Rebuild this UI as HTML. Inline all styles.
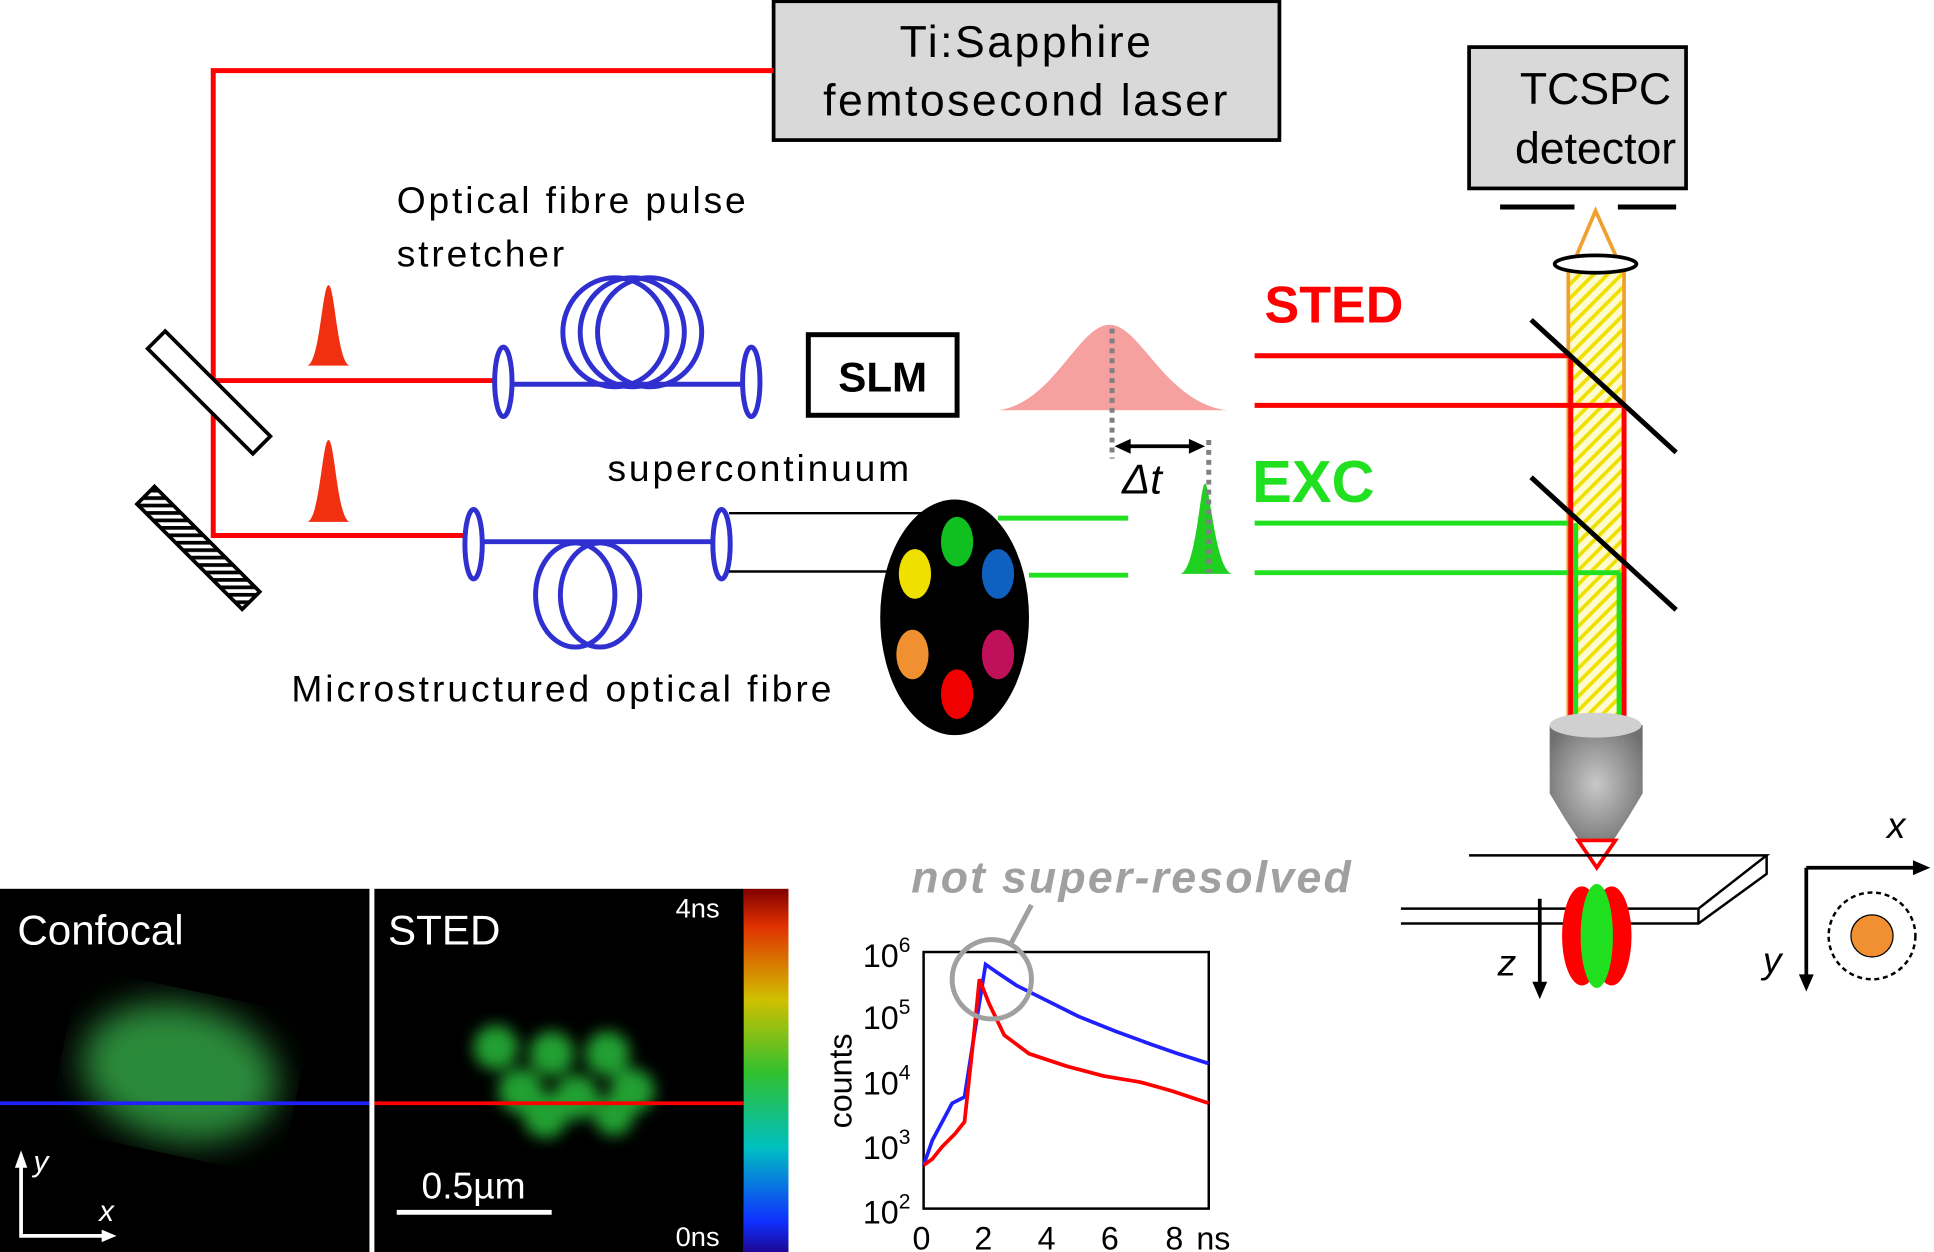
<!DOCTYPE html>
<html><head><meta charset="utf-8"><style>
html,body{margin:0;padding:0;background:#fff;}
svg{display:block;}
text{font-family:"Liberation Sans",sans-serif;}
</style></head><body>
<svg width="1934" height="1252" viewBox="0 0 1560 1010" preserveAspectRatio="none" xmlns="http://www.w3.org/2000/svg">
<defs>
<pattern id="hatch" width="8" height="8" patternUnits="userSpaceOnUse" patternTransform="rotate(45)">
<rect width="8" height="8" fill="#fffbd0"/><rect width="3" height="8" fill="#f0e000"/></pattern>
<pattern id="bhatch" width="6" height="6" patternUnits="userSpaceOnUse" patternTransform="rotate(45)">
<rect width="6" height="6" fill="#fff"/><rect width="3" height="6" fill="#000"/></pattern>
<linearGradient id="cbar" x1="0" y1="0" x2="0" y2="1">
<stop offset="0" stop-color="#800000"/><stop offset="0.1" stop-color="#e03000"/><stop offset="0.3" stop-color="#d0c000"/><stop offset="0.5" stop-color="#30c030"/><stop offset="0.7" stop-color="#00c0c0"/><stop offset="0.9" stop-color="#1030ff"/><stop offset="1" stop-color="#200080"/></linearGradient>
<filter id="blur1"><feGaussianBlur stdDeviation="14"/></filter>
<filter id="blur2"><feGaussianBlur stdDeviation="6"/></filter>
<radialGradient id="obj" cx="0.5" cy="0.5" r="0.6"><stop offset="0" stop-color="#c8c8c8"/><stop offset="1" stop-color="#707070"/></radialGradient>
</defs>
<!-- laser -->
<rect x="624" y="1" width="408" height="112" fill="#d9d9d9" stroke="#000" stroke-width="3"/>
<text x="828" y="46" font-size="36" text-anchor="middle" letter-spacing="2">Ti:Sapphire</text>
<text x="828" y="93" font-size="36" text-anchor="middle" letter-spacing="2">femtosecond laser</text>
<polyline points="624,57 172,57 172,432 380,432" fill="none" stroke="#f00" stroke-width="4"/>
<line x1="172" y1="307" x2="400" y2="307" stroke="#f00" stroke-width="4"/>
<!-- mirrors -->
<rect x="108" y="308" width="120" height="20" transform="rotate(45 170 318)" fill="#fff" stroke="#000" stroke-width="3"/>
<rect x="100" y="432" width="120" height="20" transform="rotate(45 160 442)" fill="url(#bhatch)" stroke="#000" stroke-width="3"/>
<!-- pulses -->
<path d="M248,295 C258,292 260,230 265,230 C270,230 272,292 282,295 Z" fill="#f03010"/>
<path d="M248,421 C258,418 260,355 265,355 C270,355 272,418 282,421 Z" fill="#f03010"/>
<!-- fibre 1 -->
<text x="320" y="172" font-size="30" letter-spacing="2.3">Optical fibre pulse</text>
<text x="320" y="215" font-size="30" letter-spacing="2.3">stretcher</text>
<line x1="406" y1="310" x2="606" y2="310" stroke="#3030d0" stroke-width="4"/>
<ellipse cx="406" cy="308" rx="7" ry="28" fill="#fff" stroke="#3030d0" stroke-width="4"/>
<ellipse cx="606" cy="308" rx="7" ry="28" fill="#fff" stroke="#3030d0" stroke-width="4"/>
<g fill="none" stroke="#3030d0" stroke-width="4">
<ellipse cx="496" cy="268" rx="42" ry="44"/><ellipse cx="510" cy="268" rx="42" ry="44"/><ellipse cx="524" cy="268" rx="42" ry="44"/>
<ellipse cx="464" cy="480" rx="32" ry="42"/><ellipse cx="484" cy="480" rx="32" ry="42"/>
</g>
<!-- fibre 2 -->
<line x1="382" y1="437" x2="582" y2="437" stroke="#3030d0" stroke-width="4"/>
<ellipse cx="382" cy="439" rx="7" ry="28" fill="#fff" stroke="#3030d0" stroke-width="4"/>
<ellipse cx="582" cy="439" rx="7" ry="28" fill="#fff" stroke="#3030d0" stroke-width="4"/>
<text x="490" y="388" font-size="30" letter-spacing="2.3">supercontinuum</text>
<text x="235" y="566" font-size="30" letter-spacing="2.4">Microstructured optical fibre</text>
<line x1="588" y1="414" x2="745" y2="414" stroke="#000" stroke-width="2"/>
<line x1="588" y1="461" x2="718" y2="461" stroke="#000" stroke-width="2"/>
<!-- SLM -->
<rect x="652" y="270" width="120" height="65" fill="#fff" stroke="#000" stroke-width="4"/>
<text x="712" y="316" font-size="34" font-weight="bold" text-anchor="middle">SLM</text>
<!-- filter wheel -->
<ellipse cx="770" cy="498" rx="60" ry="95" fill="#000"/>
<ellipse cx="772" cy="437" rx="13" ry="20" fill="#10c020"/>
<ellipse cx="805" cy="463" rx="13" ry="20" fill="#1060c0"/>
<ellipse cx="738" cy="463" rx="13" ry="20" fill="#f0e000"/>
<ellipse cx="736" cy="528" rx="13" ry="20" fill="#f09030"/>
<ellipse cx="805" cy="528" rx="13" ry="20" fill="#c0105a"/>
<ellipse cx="772" cy="560" rx="13" ry="20" fill="#f00000"/>
<!-- green lines -->
<line x1="805" y1="418" x2="910" y2="418" stroke="#20e020" stroke-width="4"/>
<line x1="830" y1="464" x2="910" y2="464" stroke="#20e020" stroke-width="4"/>
<!-- gaussian -->
<path d="M805,331 C850,325 870,262 895,262 C920,262 940,325 990,331 Z" fill="#f7a0a0"/>
<path d="M952,463 C965,460 968,390 972,390 C976,390 980,460 994,463 Z" fill="#20d020"/>
<line x1="897" y1="265" x2="897" y2="370" stroke="#808080" stroke-width="4" stroke-dasharray="4,4"/>
<line x1="975" y1="355" x2="975" y2="462" stroke="#808080" stroke-width="4" stroke-dasharray="4,4"/>
<line x1="905" y1="360" x2="966" y2="360" stroke="#000" stroke-width="3"/>
<polygon points="899,360 912,354 912,366" fill="#000"/><polygon points="972,360 959,354 959,366" fill="#000"/>
<text x="905" y="398" font-size="34" font-family="Liberation Serif" font-style="italic">Δt</text>
<!-- STED / EXC -->
<text x="1020" y="260" font-size="42" font-weight="bold" fill="#f00">STED</text>
<text x="1010" y="405" font-size="48" font-weight="bold" fill="#20e020">EXC</text>
<!-- column -->
<rect x="1265" y="215" width="45" height="365" fill="url(#hatch)" stroke="#f0a030" stroke-width="3"/>
<line x1="1012" y1="287" x2="1267" y2="287" stroke="#f00" stroke-width="4"/>
<line x1="1012" y1="327" x2="1310" y2="327" stroke="#f00" stroke-width="4"/>
<line x1="1012" y1="422" x2="1268" y2="422" stroke="#20e020" stroke-width="4"/>
<line x1="1012" y1="462" x2="1307" y2="462" stroke="#20e020" stroke-width="4"/>
<line x1="1267" y1="287" x2="1267" y2="580" stroke="#f00" stroke-width="4"/>
<line x1="1310" y1="327" x2="1310" y2="580" stroke="#f00" stroke-width="4"/>
<line x1="1271" y1="422" x2="1271" y2="580" stroke="#20e020" stroke-width="4"/>
<line x1="1306" y1="462" x2="1306" y2="580" stroke="#20e020" stroke-width="4"/>
<line x1="1235" y1="258" x2="1352" y2="365" stroke="#000" stroke-width="4"/>
<line x1="1235" y1="385" x2="1352" y2="492" stroke="#000" stroke-width="4"/>
<!-- TCSPC -->
<rect x="1185" y="38" width="175" height="114" fill="#d9d9d9" stroke="#000" stroke-width="3"/>
<text x="1287" y="84" font-size="36" text-anchor="middle">TCSPC</text>
<text x="1287" y="132" font-size="36" text-anchor="middle">detector</text>
<line x1="1210" y1="167" x2="1270" y2="167" stroke="#000" stroke-width="4"/>
<line x1="1305" y1="167" x2="1352" y2="167" stroke="#000" stroke-width="4"/>
<polyline points="1270,210 1287,170 1305,210" fill="none" stroke="#f0a030" stroke-width="3"/>
<ellipse cx="1287" cy="213" rx="33" ry="7" fill="#fff" stroke="#000" stroke-width="3"/>
<!-- objective -->
<path d="M1250,585 L1250,640 L1262,660 L1275,680 L1300,680 L1313,660 L1325,640 L1325,585 Z" fill="url(#obj)"/>
<ellipse cx="1287" cy="585" rx="37" ry="10" fill="#d0d0d0"/>
<polygon points="1273,678 1303,678 1288,700" fill="#fff" stroke="#f00" stroke-width="3"/>
<!-- slide -->
<polyline points="1185,690 1425,690 1370,733 1130,733" fill="none" stroke="#000" stroke-width="2"/>
<polyline points="1130,745 1370,745 1425,705 1425,690" fill="none" stroke="#000" stroke-width="2"/>
<line x1="1370" y1="733" x2="1370" y2="745" stroke="#000" stroke-width="2"/>
<ellipse cx="1276" cy="755" rx="16" ry="40" fill="#f00"/>
<ellipse cx="1300" cy="755" rx="16" ry="40" fill="#f00"/>
<ellipse cx="1288" cy="755" rx="13" ry="42" fill="#20e020"/>
<line x1="1242" y1="725" x2="1242" y2="795" stroke="#000" stroke-width="3"/>
<polygon points="1236,792 1248,792 1242,806" fill="#000"/>
<text x="1208" y="787" font-size="30" font-family="Liberation Serif" font-style="italic">z</text>
<line x1="1457" y1="700" x2="1545" y2="700" stroke="#000" stroke-width="3"/>
<polygon points="1543,694 1543,706 1557,700" fill="#000"/>
<line x1="1457" y1="700" x2="1457" y2="788" stroke="#000" stroke-width="3"/>
<polygon points="1451,786 1463,786 1457,800" fill="#000"/>
<text x="1522" y="676" font-size="30" font-family="Liberation Serif" font-style="italic">x</text>
<text x="1422" y="785" font-size="30" font-family="Liberation Serif" font-style="italic">y</text>
<circle cx="1510" cy="755" r="35" fill="none" stroke="#000" stroke-width="2" stroke-dasharray="4,3"/>
<circle cx="1510" cy="755" r="17" fill="#f09030" stroke="#000" stroke-width="1"/>
<!-- images -->
<rect x="0" y="717" width="298" height="298" fill="#000"/>
<rect x="302" y="717" width="298" height="298" fill="#000"/>
<rect x="600" y="717" width="36" height="298" fill="url(#cbar)"/>
<ellipse cx="145" cy="865" rx="80" ry="55" fill="#2a8a3a" filter="url(#blur1)" transform="rotate(12 145 865)"/>
<g filter="url(#blur2)" fill="#20a030">
<circle cx="400" cy="845" r="18"/><circle cx="445" cy="850" r="18"/><circle cx="490" cy="850" r="18"/>
<circle cx="420" cy="880" r="18"/><circle cx="465" cy="885" r="18"/><circle cx="510" cy="880" r="18"/>
<circle cx="440" cy="900" r="18"/><circle cx="495" cy="900" r="16"/></g>
<line x1="0" y1="890" x2="298" y2="890" stroke="#2020ff" stroke-width="3"/>
<line x1="302" y1="890" x2="600" y2="890" stroke="#f00" stroke-width="3"/>
<text x="14" y="762" font-size="34" fill="#fff">Confocal</text>
<text x="313" y="762" font-size="34" fill="#fff">STED</text>
<text x="545" y="740" font-size="22" fill="#fff">4ns</text>
<text x="545" y="1005" font-size="22" fill="#fff">0ns</text>
<line x1="320" y1="978" x2="445" y2="978" stroke="#fff" stroke-width="4"/>
<text x="340" y="967" font-size="30" fill="#fff">0.5µm</text>
<polyline points="17,940 17,997 85,997" fill="none" stroke="#fff" stroke-width="3"/>
<polygon points="12,942 22,942 17,928" fill="#fff"/><polygon points="82,992 82,1002 94,997" fill="#fff"/>
<text x="27" y="945" font-size="24" fill="#fff" font-family="Liberation Serif" font-style="italic">y</text>
<text x="80" y="985" font-size="24" fill="#fff" font-family="Liberation Serif" font-style="italic">x</text>
<!-- plot -->
<text x="735" y="720" font-size="36" font-weight="bold" font-style="italic" fill="#a0a0a0" letter-spacing="1.8">not super-resolved</text>
<rect x="745" y="768" width="230" height="207" fill="#fff" stroke="#000" stroke-width="2"/>
<polyline points="745,940 752,920 760,905 768,890 778,885 785,840 795,778 805,785 820,795 840,805 870,820 900,832 930,843 950,850 975,858" fill="none" stroke="#2020ff" stroke-width="3"/>
<polyline points="745,940 752,935 760,925 770,915 778,905 785,840 790,790 798,810 810,835 830,850 860,860 890,868 920,873 945,880 960,885 975,890" fill="none" stroke="#f00" stroke-width="3"/>
<circle cx="800" cy="790" r="32" fill="none" stroke="#a0a0a0" stroke-width="4"/>
<line x1="815" y1="762" x2="832" y2="730" stroke="#a0a0a0" stroke-width="4"/>
<g font-size="26">
<text x="696" y="780">10<tspan font-size="17" dy="-12">6</tspan></text>
<text x="696" y="830">10<tspan font-size="17" dy="-12">5</tspan></text>
<text x="696" y="883">10<tspan font-size="17" dy="-12">4</tspan></text>
<text x="696" y="935">10<tspan font-size="17" dy="-12">3</tspan></text>
<text x="696" y="987">10<tspan font-size="17" dy="-12">2</tspan></text>
<text x="736" y="1008">0</text><text x="786" y="1008">2</text><text x="837" y="1008">4</text><text x="888" y="1008">6</text><text x="940" y="1008">8</text><text x="965" y="1008">ns</text>
</g>
<text x="687" y="872" font-size="26" transform="rotate(-90 687 872)" text-anchor="middle">counts</text>
</svg>
</body></html>
